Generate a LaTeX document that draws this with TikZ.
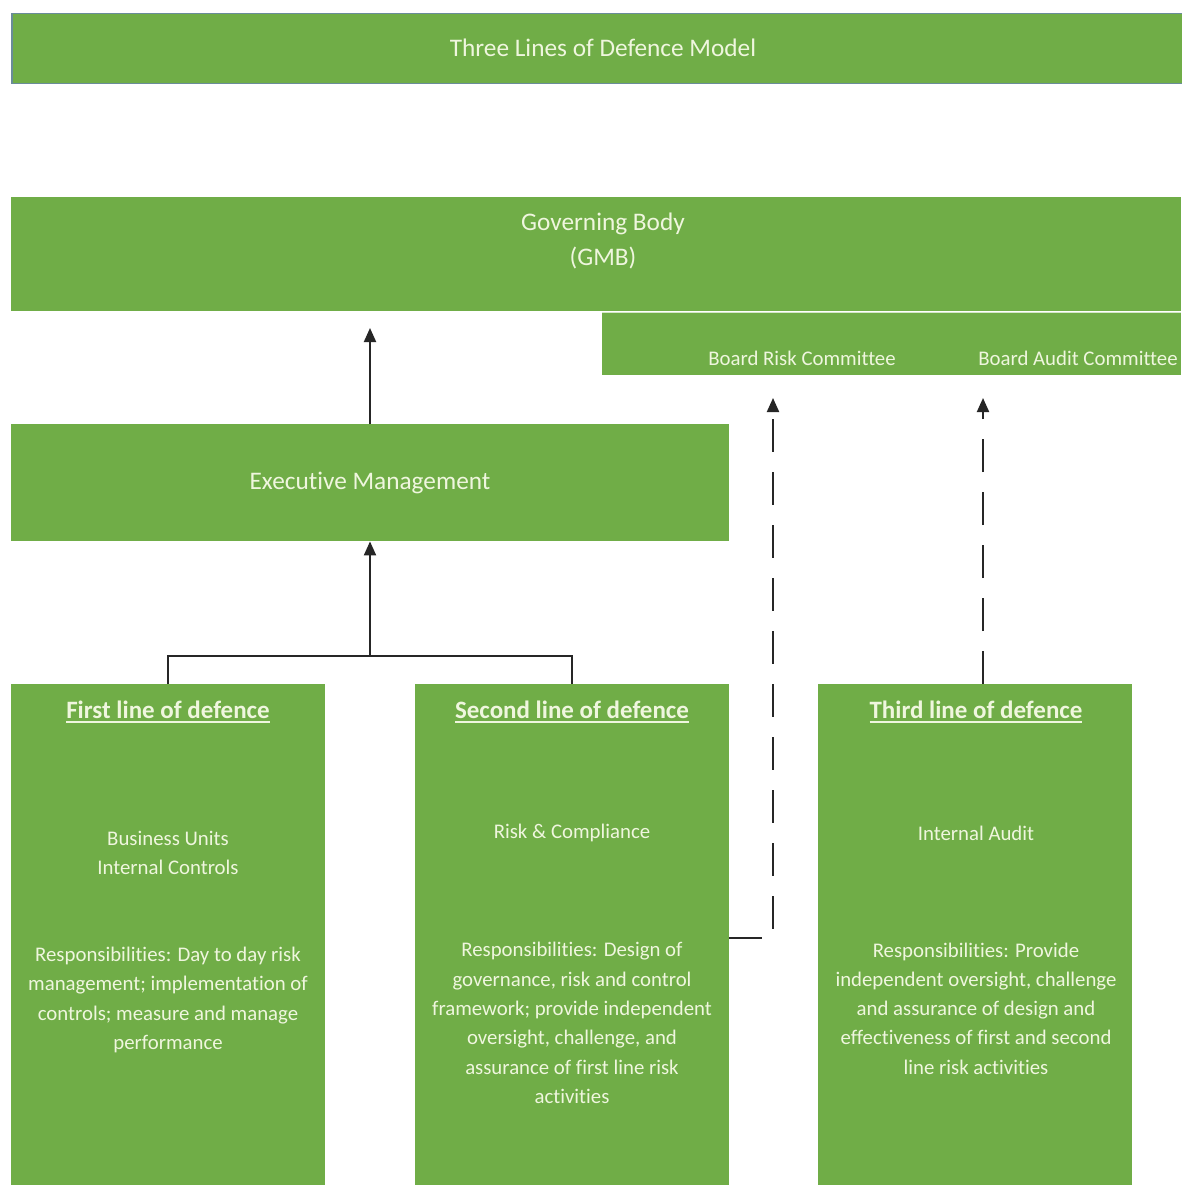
\documentclass[tikz,border=0pt]{standalone}
\usepackage{fontspec}
\setmainfont{Carlito}[Ligatures=NoCommon]
\usetikzlibrary{arrows.meta}
\definecolor{boxgreen}{HTML}{70AD47}
\definecolor{txtlight}{HTML}{EFF6DE}
\definecolor{edgeblue}{HTML}{6A8C99}
\newcommand\myul[1]{\setbox0\hbox{#1}\rlap{\color{txtlight}\rule[-4pt]{\wd0}{1.8pt}}\box0}
\tikzset{
  greenbox/.style={fill=boxgreen, draw=none, inner sep=0pt, anchor=north west},
  lbl/.style={text=txtlight, inner sep=0pt, align=center},
  headlbl/.style={lbl, font=\fontsize{25}{29}\selectfont\bfseries},
  bodylbl/.style={lbl, font=\fontsize{20.8}{29.3}\selectfont},
  biglbl/.style={lbl, font=\fontsize{25.3}{35}\selectfont},
  conn/.style={line width=2pt, draw=black!85, -{Triangle[length=14pt,width=12pt]}},
  dconn/.style={conn, dash pattern=on 33pt off 20pt},
  plainconn/.style={line width=2pt, draw=black!85},
}
\begin{document}
\begin{tikzpicture}[x=1pt,y=-1pt]
\useasboundingbox (0,0) rectangle (1181,1185);
\fill[white] (0,0) rectangle (1181,1185);
% title
\node[greenbox, draw=edgeblue, line width=1.5pt, minimum width=1175pt, minimum height=70pt] (title) at (11,13) {};
\node[biglbl] (titletxt) at (603,48) {Three Lines of Defence Model};
% governing body
\node[greenbox, minimum width=1170pt, minimum height=114pt] (gmb) at (11,197) {};
\node[biglbl] (gmbtxt) at (603,241) {Governing Body\\(GMB)};
% committees
\node[greenbox, minimum width=579pt, minimum height=62pt] (comm) at (602,313) {};
\draw[white!70!boxgreen, line width=1pt] (602,312.3) -- (1181,312.3);
\node[bodylbl] (brc) at (802,358) {Board Risk Committee};
\node[bodylbl] (bac) at (1078,358) {Board Audit Committee};
% executive management
\node[greenbox, minimum width=718pt, minimum height=117pt] (exec) at (11,424) {};
\node[biglbl] (exectxt) at (370,483) {Executive Management};
% three lines
\node[greenbox, minimum width=314pt, minimum height=501pt] (first) at (11,684) {};
\node[greenbox, minimum width=314pt, minimum height=501pt] (second) at (415,684) {};
\node[greenbox, minimum width=314pt, minimum height=501pt] (third) at (818,684) {};
\node[headlbl] (h1) at (168,712) {\myul{First line of defence}};
\node[headlbl] (h2) at (572,712) {\myul{Second line of defence}};
\node[headlbl] (h3) at (976,712) {\myul{Third line of defence}};
\node[bodylbl] (u1) at (168,853) {Business Units\\Internal Controls};
\node[bodylbl] (u2) at (572,833) {Risk \& Compliance};
\node[bodylbl] (u3) at (976,833) {Internal Audit};
\node[bodylbl] (r1) at (168,1000) {Responsibilities: Day to day risk\\management; implementation of\\controls; measure and manage\\performance};
\node[bodylbl] (r2) at (572,1023) {Responsibilities: Design of\\governance, risk and control\\framework; provide independent\\oversight, challenge, and\\assurance of first line risk\\activities};
\node[bodylbl] (r3) at (976,1008.5) {Responsibilities: Provide\\independent oversight, challenge\\and assurance of design and\\effectiveness of first and second\\line risk activities};
% connectors
\coordinate (gmbin) at (370,328);
\coordinate (brcin) at (773,398);
\coordinate (bacin) at (983,398);
\coordinate (joint) at (370,656);
\draw[plainconn] (first.north -| 168,0) |- (joint) -| (second.north -| 572,0);
\draw[conn] (joint) -- (exec.south -| joint);
\draw[conn] (exec.north -| gmbin) -- (gmbin);
\draw[dconn] (second.east |- 0,938) -- (773,938) -- (brcin);
\draw[dconn] (third.north -| bacin) -- (bacin);
\end{tikzpicture}
\end{document}
